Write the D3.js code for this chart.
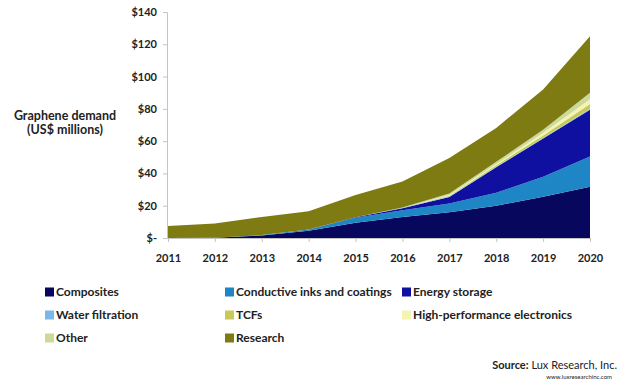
<!DOCTYPE html>
<html>
<head>
<meta charset="utf-8">
<script src="https://cdn.jsdelivr.net/npm/d3@7"></script>
<style>
  html, body { margin: 0; padding: 0; background: #fff; }
  svg { display: block; }
  text { font-family: Lato, "Liberation Sans", sans-serif; fill: #222; }
</style>
</head>
<body>
<svg id="chart" width="627" height="385"></svg>
<script>
// Graphene demand by application, US$ millions
const years = [2011, 2012, 2013, 2014, 2015, 2016, 2017, 2018, 2019, 2020];
const composites      = [0, 0.2, 1.5, 4.5, 9.5, 13, 16, 20, 25.5, 31.8];
const conductiveInks  = [0, 0, 0.3, 0.8, 3, 4.2, 5.3, 8, 12.5, 18.7];
const energyStorage   = [0, 0, 0, 0, 0.3, 1.3, 4.1, 15.9, 23.6, 29];
const waterFiltration = [0, 0, 0, 0, 0.1, 0.2, 0.3, 0.3, 0.4, 0.5];
const tcfs            = [0, 0, 0, 0, 0, 0.1, 0.5, 0.8, 1.5, 3];
const highPerfElec    = [0, 0, 0, 0, 0, 0, 0.4, 0.8, 1.5, 3];
const other           = [0, 0, 0, 0, 0, 0.1, 1, 1.4, 2, 4];
const research        = [7.5, 8.8, 11.2, 11.2, 13.7, 16.1, 22, 21, 25, 35];

const yTicks = [0, 20, 40, 60, 80, 100, 120, 140];
const yTickLabels = ["$-", "$20", "$40", "$60", "$80", "$100", "$120", "$140"];

// Stacking order (bottom to top) and legend order
const seriesNames = ["Composites", "Conductive inks and coatings", "Energy storage",
  "Water filtration", "TCFs", "High-performance electronics", "Other", "Research"];
const seriesValues = [composites, conductiveInks, energyStorage, waterFiltration,
  tcfs, highPerfElec, other, research];
const seriesColors = ["#07075e", "#1f86c6", "#1010a0", "#7ab8ea",
  "#c9c85a", "#f5f3b0", "#cbd99a", "#7e7b12"];

const rows = years.map((y, i) => {
  const r = { year: y };
  seriesNames.forEach((n, k) => { r[n] = seriesValues[k][i]; });
  return r;
});

const svg = d3.select("#chart");
const x = d3.scaleLinear().domain([2011, 2020]).range([168, 590]);
const y = d3.scaleLinear().domain([0, 140]).range([238, 12]);

const layers = d3.stack().keys(seriesNames)(rows);

const area = d3.area()
  .x(d => x(d.data.year))
  .y0(d => y(d[0]))
  .y1(d => y(d[1]));

svg.append("g").selectAll("path")
  .data(layers)
  .join("path")
  .attr("d", area)
  .attr("fill", (d, i) => seriesColors[i]);

// Y axis
const yAxis = d3.axisLeft(y)
  .tickValues(yTicks)
  .tickFormat((d, i) => yTickLabels[i])
  .tickSize(4)
  .tickPadding(6);
const gy = svg.append("g").attr("transform", "translate(167,0)").call(yAxis);
gy.select(".domain").attr("stroke", "#c4c4c4");
gy.selectAll(".tick line").attr("stroke", "#c4c4c4");
gy.selectAll(".tick text")
  .attr("font-size", 11).attr("font-weight", 700).attr("fill", "#333")
  .attr("font-family", "'Liberation Sans', sans-serif");

// X axis
const xAxis = d3.axisBottom(x)
  .tickValues(years)
  .tickFormat(d3.format("d"))
  .tickSize(4)
  .tickSizeOuter(0)
  .tickPadding(12);
const gx = svg.append("g").attr("transform", "translate(0,238)").call(xAxis);
gx.select(".domain").attr("stroke", "#c4c4c4");
gx.selectAll(".tick line").attr("stroke", "#c4c4c4");
gx.selectAll(".tick text")
  .attr("font-size", 11).attr("font-weight", 700).attr("fill", "#333")
  .attr("font-family", "'Liberation Sans', sans-serif");

// Y axis title
const title = svg.append("text")
  .attr("text-anchor", "middle")
  .attr("font-size", 12.5).attr("font-weight", 700).attr("fill", "#333");
title.append("tspan").attr("x", 65).attr("y", 120).text("Graphene demand");
title.append("tspan").attr("x", 65).attr("y", 134).text("(US$ millions)");

// Legend
const legendCols = [45, 225, 402];
const legendRows = [292, 315, 338];
const legend = svg.append("g");
seriesNames.forEach((name, i) => {
  const col = i % 3, row = Math.floor(i / 3);
  const g = legend.append("g")
    .attr("transform", `translate(${legendCols[col]},${legendRows[row]})`);
  g.append("rect").attr("x", 0).attr("y", -4.5).attr("width", 9).attr("height", 9)
    .attr("fill", seriesColors[i]);
  g.append("text").attr("x", 11).attr("y", 0).attr("dy", "0.35em")
    .attr("font-size", 12).attr("font-weight", 700).attr("fill", "#222")
    .text(name);
});

// Source note
const src = svg.append("text").attr("x", 617).attr("y", 369)
  .attr("text-anchor", "end").attr("font-size", 11).attr("fill", "#222");
src.append("tspan").attr("font-weight", 700).text("Source:");
src.append("tspan").text(" Lux Research, Inc.");
svg.append("text").attr("x", 612).attr("y", 379)
  .attr("text-anchor", "end").attr("font-size", 6).attr("fill", "#444")
  .text("www.luxresearchinc.com");
</script>
</body>
</html>
